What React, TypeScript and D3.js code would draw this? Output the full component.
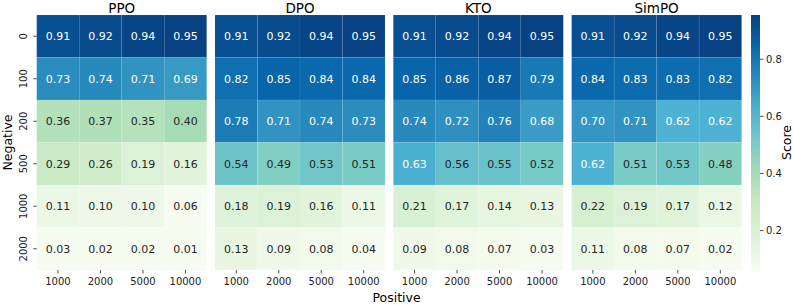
import React from 'react';
import * as d3 from 'd3';

// Methods shown as panels, left to right
const methods = ['PPO', 'DPO', 'KTO', 'SimPO'];
const positives = ['1000', '2000', '5000', '10000'];
const negatives = ['0', '100', '200', '500', '1000', '2000'];

// Rows = negatives, columns = positives
const ppoScores = [
    [0.91, 0.92, 0.94, 0.95],
    [0.73, 0.74, 0.71, 0.69],
    [0.36, 0.37, 0.35, 0.40],
    [0.29, 0.26, 0.19, 0.16],
    [0.11, 0.10, 0.10, 0.06],
    [0.03, 0.02, 0.02, 0.01],
];
const dpoScores = [
    [0.91, 0.92, 0.94, 0.95],
    [0.82, 0.85, 0.84, 0.84],
    [0.78, 0.71, 0.74, 0.73],
    [0.54, 0.49, 0.53, 0.51],
    [0.18, 0.19, 0.16, 0.11],
    [0.13, 0.09, 0.08, 0.04],
];
const ktoScores = [
    [0.91, 0.92, 0.94, 0.95],
    [0.85, 0.86, 0.87, 0.79],
    [0.74, 0.72, 0.76, 0.68],
    [0.63, 0.56, 0.55, 0.52],
    [0.21, 0.17, 0.14, 0.13],
    [0.09, 0.08, 0.07, 0.03],
];
const simpoScores = [
    [0.91, 0.92, 0.94, 0.95],
    [0.84, 0.83, 0.83, 0.82],
    [0.70, 0.71, 0.62, 0.62],
    [0.62, 0.51, 0.53, 0.48],
    [0.22, 0.19, 0.17, 0.12],
    [0.11, 0.08, 0.07, 0.02],
];
const colorbarTicks = [0.2, 0.4, 0.6, 0.8];

const allScores = [ppoScores, dpoScores, ktoScores, simpoScores];

// ColorBrewer GnBu, linearly interpolated like matplotlib
const gnbu = ['#f7fcf0', '#e0f3db', '#ccebc5', '#a8ddb5', '#7bccc4', '#4eb3d3', '#2b8cbe', '#0868ac', '#084081'];
const vmin = 0.055;
const vmax = 0.955;
const color = d3
    .scaleLinear<string>()
    .domain(gnbu.map((_, i) => vmin + (i / (gnbu.length - 1)) * (vmax - vmin)))
    .range(gnbu)
    .interpolate(d3.interpolateRgb)
    .clamp(true);

// seaborn-style annotation colour choice
const textColor = (c: string) => {
    const rgb = d3.rgb(c);
    const lin = (v: number) => {
        const s = v / 255;
        return s <= 0.03928 ? s / 12.92 : Math.pow((s + 0.055) / 1.055, 2.4);
    };
    const lum = 0.2126 * lin(rgb.r) + 0.7152 * lin(rgb.g) + 0.0722 * lin(rgb.b);
    return lum > 0.408 ? '#262626' : '#ffffff';
};

const width = 793;
const height = 305;
const top = 15;
const bottom = 270;
const font = 'DejaVu Sans, sans-serif';

const App: React.FC = () => {
    const panelScale = d3.scaleBand<string>().domain(methods).range([36.7, 741.6]).paddingInner(0.0466);
    const yScale = d3.scaleBand<string>().domain(negatives).range([top, bottom]);
    const cbX = 751;
    const cbW = 9;
    const cbScale = d3.scaleLinear().domain([vmin, vmax]).range([272, top]);
    const gradStops = d3.range(0, 1.0001, 0.05);

    return (
        <div style={{ position: 'absolute', left: 0, top: 0 }}>
            <svg width={width} height={height} style={{ display: 'block' }} fontFamily={font}>
                <defs>
                    <linearGradient id="cbgrad" x1="0" y1="1" x2="0" y2="0">
                        {gradStops.map((t) => (
                            <stop key={t} offset={t} stopColor={color(vmin + t * (vmax - vmin))} />
                        ))}
                    </linearGradient>
                </defs>
                <rect width={width} height={height} fill="#ffffff" />

                {methods.map((m, mi) => {
                    const x0 = panelScale(m)!;
                    const xScale = d3
                        .scaleBand<string>()
                        .domain(positives)
                        .range([x0, x0 + panelScale.bandwidth()]);
                    const scores = allScores[mi];
                    return (
                        <g key={m}>
                            <text
                                x={x0 + panelScale.bandwidth() / 2}
                                y={12.5}
                                textAnchor="middle"
                                fontSize={13.5}
                                fill="#000"
                            >
                                {m}
                            </text>
                            {negatives.map((neg, ri) =>
                                positives.map((pos, ci) => {
                                    const v = scores[ri][ci];
                                    const c = color(v);
                                    return (
                                        <g key={`${neg}-${pos}`}>
                                            <rect
                                                x={xScale(pos)}
                                                y={yScale(neg)}
                                                width={xScale.bandwidth()}
                                                height={yScale.bandwidth()}
                                                fill={c}
                                                stroke="#ffffff"
                                                strokeOpacity={0.12}
                                                strokeWidth={0.5}
                                            />
                                            <text
                                                x={xScale(pos)! + xScale.bandwidth() / 2}
                                                y={yScale(neg)! + yScale.bandwidth() / 2}
                                                dy="0.36em"
                                                textAnchor="middle"
                                                fontSize={11}
                                                fill={textColor(c)}
                                            >
                                                {v.toFixed(2)}
                                            </text>
                                        </g>
                                    );
                                })
                            )}
                            {positives.map((pos) => {
                                const cx = xScale(pos)! + xScale.bandwidth() / 2;
                                return (
                                    <g key={pos}>
                                        <line x1={cx} x2={cx} y1={bottom} y2={bottom + 3.5} stroke="#222" strokeWidth={0.8} />
                                        <text x={cx} y={285} textAnchor="middle" fontSize={10} fill="#222">
                                            {pos}
                                        </text>
                                    </g>
                                );
                            })}
                            {mi === 0 &&
                                negatives.map((neg) => {
                                    const cy = yScale(neg)! + yScale.bandwidth() / 2;
                                    return (
                                        <g key={neg}>
                                            <line x1={x0 - 3.5} x2={x0} y1={cy} y2={cy} stroke="#222" strokeWidth={0.8} />
                                            <text
                                                transform={`translate(27,${cy}) rotate(-90)`}
                                                textAnchor="middle"
                                                fontSize={10}
                                                fill="#222"
                                            >
                                                {neg}
                                            </text>
                                        </g>
                                    );
                                })}
                        </g>
                    );
                })}

                {/* Colorbar */}
                <rect x={cbX} y={top} width={cbW} height={272 - top} fill="url(#cbgrad)" />
                {colorbarTicks.map((t) => (
                    <g key={t}>
                        <line x1={cbX + cbW} x2={cbX + cbW + 3.5} y1={cbScale(t)} y2={cbScale(t)} stroke="#222" strokeWidth={0.8} />
                        <text x={cbX + cbW + 6} y={cbScale(t)} dy="0.36em" fontSize={10} fill="#222">
                            {t.toFixed(1)}
                        </text>
                    </g>
                ))}
                <text transform="translate(791,142.5) rotate(-90)" textAnchor="middle" fontSize={12.5} fill="#000">
                    Score
                </text>

                {/* Shared axis labels */}
                <text x={396.5} y={302} textAnchor="middle" fontSize={12.5} fill="#000">
                    Positive
                </text>
                <text transform="translate(11.5,142.5) rotate(-90)" textAnchor="middle" fontSize={12.5} fill="#000">
                    Negative
                </text>
            </svg>
        </div>
    );
};

export default App;
